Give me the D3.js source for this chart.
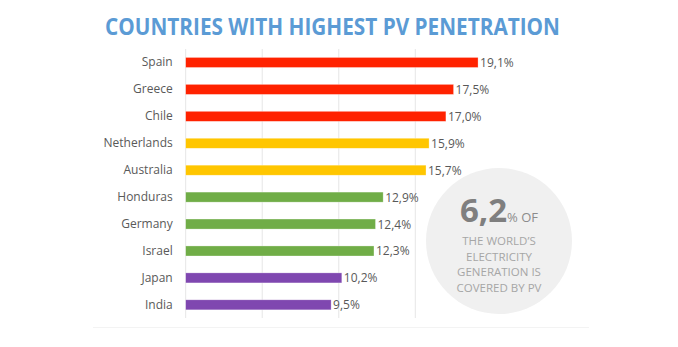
<!DOCTYPE html>
<html>
<head>
<meta charset="utf-8">
<script src="https://cdn.jsdelivr.net/npm/d3@7"></script>
<style>
  body { margin: 0; background: #fff; }
  svg { display: block; font-family: "Open Sans", sans-serif; }
</style>
</head>
<body>
<div id="chart"></div>
<script>
// countries, top to bottom
const countries = ["Spain", "Greece", "Chile", "Netherlands", "Australia",
  "Honduras", "Germany", "Israel", "Japan", "India"];
// share of electricity from PV, %
const shares = [19.1, 17.5, 17.0, 15.9, 15.7, 12.9, 12.4, 12.3, 10.2, 9.5];
// colour group of each bar
const groups = ["red", "red", "red", "yellow", "yellow",
  "green", "green", "green", "purple", "purple"];
const gridTicks = [0, 5, 10, 15];
const worldShare = 6.2;
const calloutLines = ["THE WORLD\u2019S", "ELECTRICITY", "GENERATION IS", "COVERED BY PV"];

const groupColor = {
  red: "#ff2200",
  yellow: "#ffc600",
  green: "#70ad47",
  purple: "#7f47b0"
};

const width = 678, height = 347;
const fmt = v => d3.format(".1f")(v).replace(".", ",");

const svg = d3.select("#chart").append("svg")
  .attr("width", width)
  .attr("height", height);

// title
svg.append("text")
  .attr("x", 332.5)
  .attr("y", 35)
  .attr("text-anchor", "middle")
  .attr("font-size", 24)
  .attr("font-weight", 700)
  .attr("fill", "#5b9bd5")
  .attr("textLength", 455)
  .attr("lengthAdjust", "spacingAndGlyphs")
  .text("COUNTRIES WITH HIGHEST PV PENETRATION");

const x = d3.scaleLinear().domain([0, 15]).range([185.7, 415.3]);
const y = d3.scaleBand().domain(countries).range([49, 318.3])
  .paddingInner(0.627).paddingOuter(0.3135);

// faint bottom rule
svg.append("line")
  .attr("x1", 93).attr("x2", 589)
  .attr("y1", 327.5).attr("y2", 327.5)
  .attr("stroke", "#f3f3f3").attr("stroke-width", 1);

// vertical gridlines
svg.append("g").selectAll("line")
  .data(gridTicks)
  .join("line")
  .attr("x1", d => x(d)).attr("x2", d => x(d))
  .attr("y1", 49).attr("y2", 318)
  .attr("stroke", "#e6e6e6").attr("stroke-width", 1);

// callout circle
const cx = 499, cy = 241;
svg.append("circle")
  .attr("cx", cx).attr("cy", cy).attr("r", 73)
  .attr("fill", "#f0f0f0");

const rows = countries.map((c, i) => ({ country: c, value: shares[i], group: groups[i] }));

// bars
svg.append("g").selectAll("rect")
  .data(rows)
  .join("rect")
  .attr("x", x(0))
  .attr("y", d => y(d.country))
  .attr("width", d => x(d.value) - x(0))
  .attr("height", y.bandwidth())
  .attr("fill", d => groupColor[d.group])
  .attr("stroke", "#fff")
  .attr("stroke-opacity", 0.5)
  .attr("stroke-width", 0.6);

// value labels
svg.append("g").selectAll("text")
  .data(rows)
  .join("text")
  .attr("x", d => x(d.value) + 2)
  .attr("y", d => y(d.country) + y.bandwidth() / 2 + 4.5)
  .attr("font-size", 12)
  .attr("fill", "#595959")
  .text(d => fmt(d.value) + "%");

// category labels
const yAxis = svg.append("g")
  .attr("transform", `translate(${x(0) - 13},0)`)
  .call(d3.axisLeft(y).tickSize(0).tickPadding(0));
yAxis.select(".domain").remove();
yAxis.selectAll("text")
  .attr("font-family", "'Open Sans', sans-serif")
  .attr("font-size", 12)
  .attr("fill", "#595959");

// callout text
const big = svg.append("text")
  .attr("x", cx)
  .attr("y", 221.5)
  .attr("text-anchor", "middle")
  .attr("fill", "#7f7f7f");
big.append("tspan")
  .attr("font-size", 33)
  .attr("font-weight", 700)
  .text(fmt(worldShare));
big.append("tspan")
  .attr("font-size", 13)
  .attr("fill", "#8c8c8c")
  .text("% OF");

svg.append("g").selectAll("text")
  .data(calloutLines)
  .join("text")
  .attr("x", cx)
  .attr("y", (d, i) => 245 + i * 15.7)
  .attr("text-anchor", "middle")
  .attr("font-size", 11.5)
  .attr("fill", "#a6a6a6")
  .text(d => d);
</script>
</body>
</html>
